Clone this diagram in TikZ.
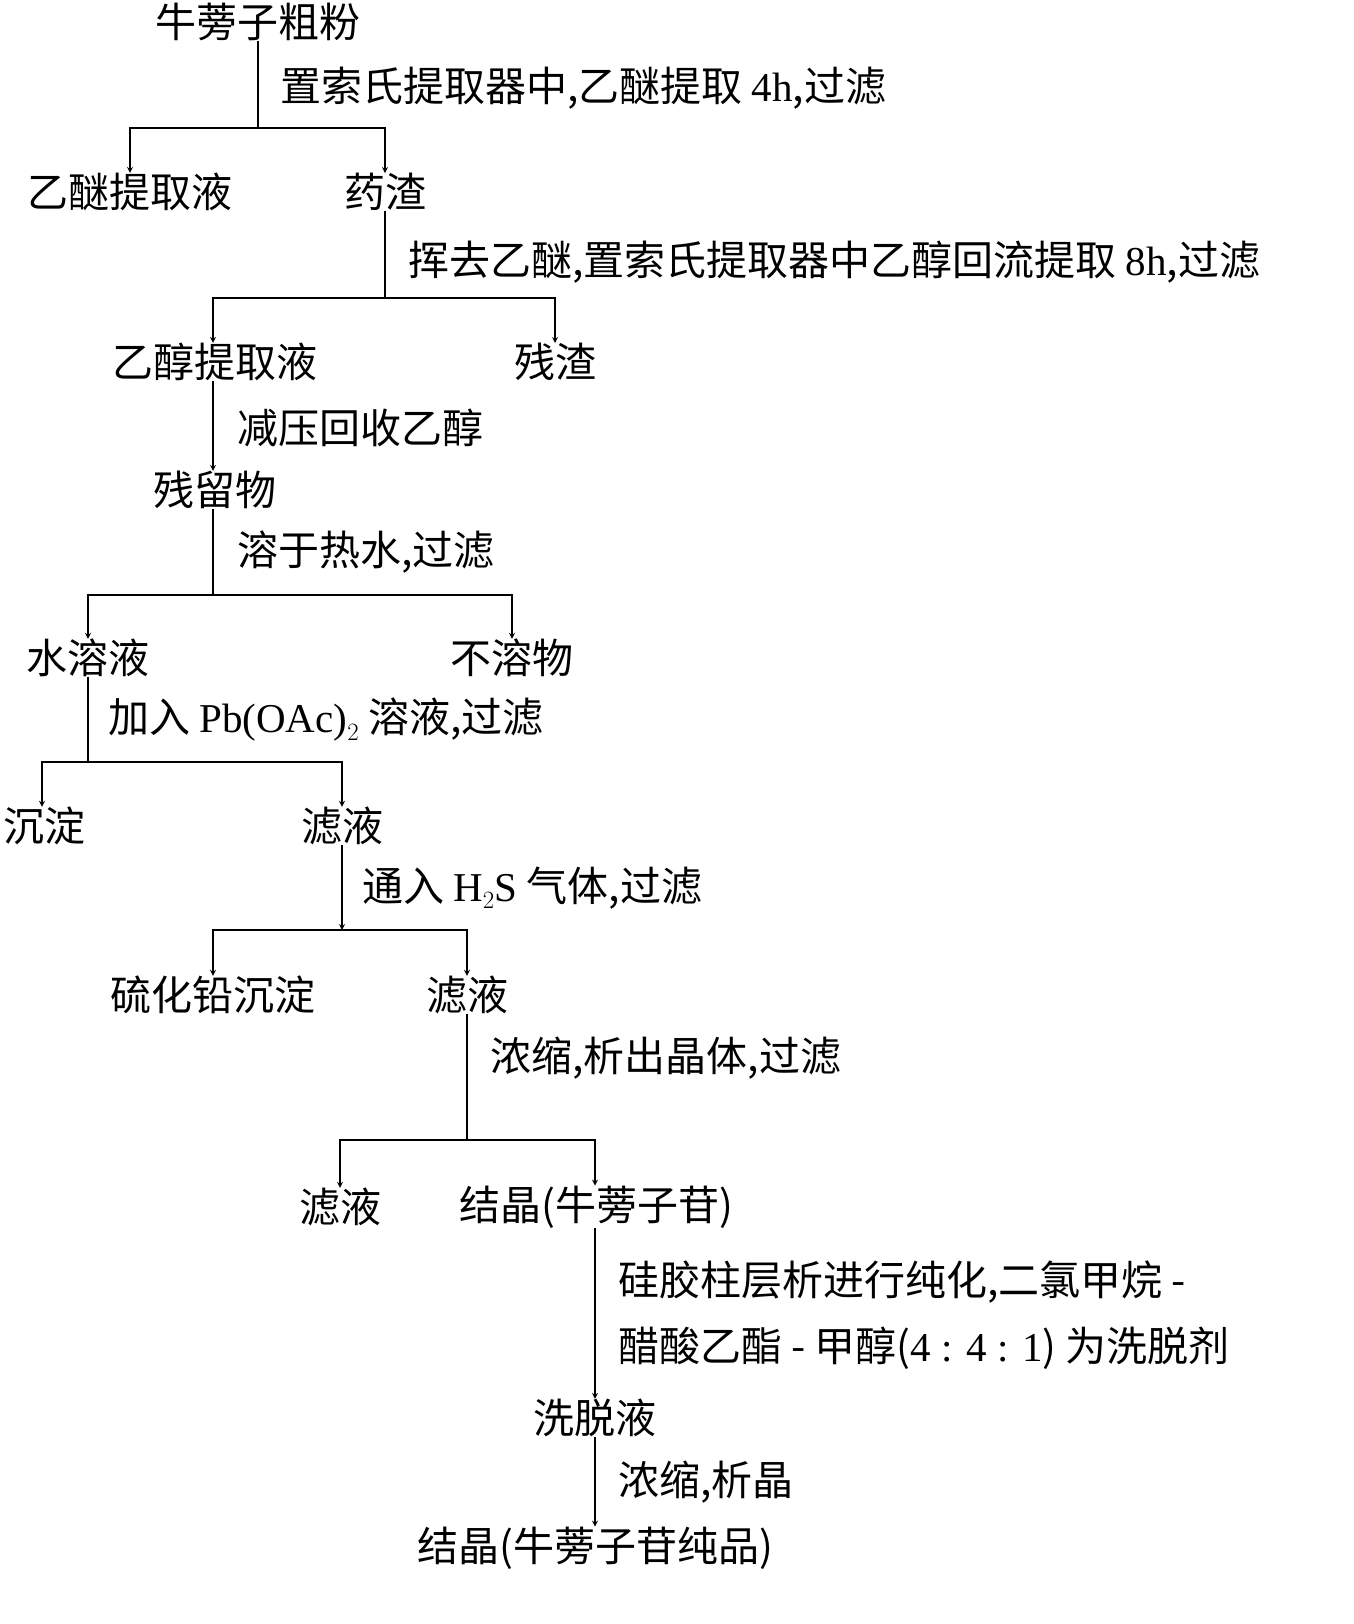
\documentclass[tikz,border=0pt]{standalone}
\usepackage{fontspec}
\setmainfont{Noto Sans CJK SC}
\newfontfamily\latin{Liberation Serif}
\begin{document}
\begin{tikzpicture}[x=1pt,y=-1pt,>=stealth,
  item/.style={font=\fontsize{41}{46}\selectfont,inner sep=0pt},
  lbl/.style={font=\fontsize{41}{46}\selectfont,inner sep=0pt,anchor=west},
  ln/.style={line width=1.6pt}]
\useasboundingbox (0,0) rectangle (1353,1624);

% Items
\node[item] (raw) at (258,22) {牛蒡子粗粉};
\node[item] (ether) at (130,192) {乙醚提取液};
\node[item] (dreg) at (385,192) {药渣};
\node[item] (etoh) at (215,362) {乙醇提取液};
\node[item] (res) at (555,362) {残渣};
\node[item] (resid) at (215,490) {残留物};
\node[item] (aq) at (88,658) {水溶液};
\node[item] (insol) at (512,658) {不溶物};
\node[item] (prec) at (45,826) {沉淀};
\node[item] (filt1) at (342,826) {滤液};
\node[item] (pbs) at (213,995) {硫化铅沉淀};
\node[item] (filt2) at (467,995) {滤液};
\node[item] (filt3) at (340,1207) {滤液};
\node[item] (cryst) at (596,1207) {结晶(牛蒡子苷)};
\node[item] (elu) at (595,1418) {洗脱液};
\node[item] (pure) at (595,1548) {结晶(牛蒡子苷纯品)};

% Steps
\node[lbl] (s1) at (280,88) {置索氏提取器中,乙醚提取 {\latin 4h},过滤};
\node[lbl] (s2) at (408,262) {挥去乙醚,置索氏提取器中乙醇回流提取 {\latin 8h},过滤};
\node[lbl] (s3) at (237,428) {减压回收乙醇};
\node[lbl] (s4) at (237,552) {溶于热水,过滤};
\node[lbl] (s5) at (108,720) {加入 {\latin Pb(OAc)$_2$} 溶液,过滤};
\node[lbl] (s6) at (362,888) {通入 {\latin H$_2$S} 气体,过滤};
\node[lbl] (s7) at (490,1058) {浓缩,析出晶体,过滤};
\node[lbl] (s8) at (618,1282) {硅胶柱层析进行纯化,二氯甲烷 -};
\node[lbl] (s9) at (618,1348) {醋酸乙酯 - 甲醇({\latin 4 : 4 : 1}) 为洗脱剂};
\node[lbl] (s10) at (618,1482) {浓缩,析晶};

% Branch points
\coordinate (b1) at (258,128);
\coordinate (b2) at (385,298);
\coordinate (b3) at (213,595);
\coordinate (b4) at (88,762);
\coordinate (b5) at (342,930);
\coordinate (b6) at (467,1140);

% Connectors
\draw[ln] (raw.south -| b1) -- (b1);
\draw[ln,->] (b1) -| (ether.north);
\draw[ln,->] (b1) -| (dreg.north);

\draw[ln] (dreg.south) -- (b2);
\draw[ln,->] (b2) -| ([xshift=-2pt]etoh.north);
\draw[ln,->] (b2) -| (res.north);

\draw[ln,->] ([xshift=-2pt]etoh.south) -- ([xshift=-2pt]resid.north);
\draw[ln] ([xshift=-2pt]resid.south) -- (b3);
\draw[ln,->] (b3) -| (aq.north);
\draw[ln,->] (b3) -| (insol.north);

\draw[ln] (aq.south) -- (b4);
\draw[ln,->] (b4) -| ([xshift=-3pt]prec.north);
\draw[ln,->] (b4) -| (filt1.north);

\draw[ln,->] (filt1.south) -- (b5);
\draw[ln,->] (b5) -| (pbs.north);
\draw[ln,->] (b5) -| (filt2.north);

\draw[ln] (filt2.south) -- (b6);
\draw[ln,->] (b6) -| (filt3.north);
\draw[ln,->] (b6) -| ([xshift=-1pt]cryst.north);

\draw[ln,->] ([xshift=-1pt]cryst.south) -- (elu.north);
\draw[ln,->] (elu.south) -- (pure.north);
\end{tikzpicture}
\end{document}
